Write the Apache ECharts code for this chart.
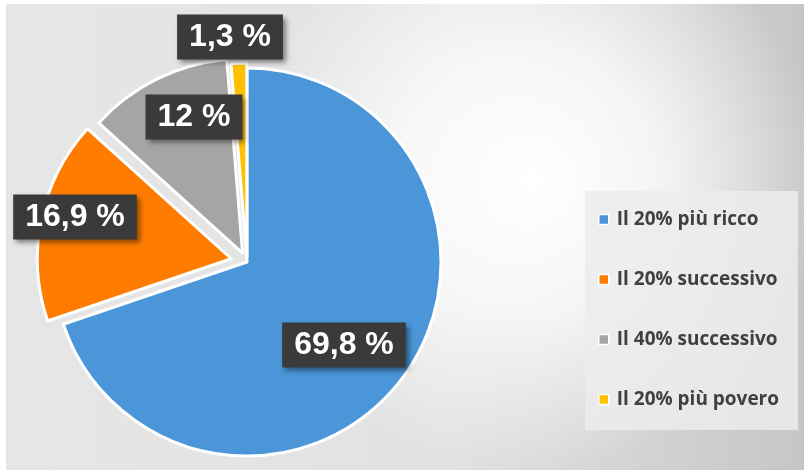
<!DOCTYPE html>
<html><head><meta charset="utf-8">
<script src="https://cdn.jsdelivr.net/npm/echarts@6/dist/echarts.min.js"></script>
<style>html,body{margin:0;padding:0;background:#fff}#c{width:812px;height:476px}</style>
</head><body><div id="c"></div>
<script>
// ---- data ----
const categories = ['Il 20% più ricco', 'Il 20% successivo', 'Il 40% successivo', 'Il 20% più povero'];
const values = [69.8, 16.9, 12, 1.3];
const valueLabels = ['69,8 %', '16,9 %', '12 %', '1,3 %'];

// ---- styles / layout ----
const colors = ['#4a96d9', '#ff7c00', '#a5a5a5', '#ffc000'];
const explode = [0, 16, 10, 5];
const labelCenters = [[344, 345], [75, 217], [194, 117], [230, 37]];
const center = [247, 262];
const radius = 194;

const total = values.reduce((a, b) => a + b, 0);

function sliceSeries(k) {
  let before = 0;
  for (let i = 0; i < k; i++) before += values[i];
  const mid = (before + values[k] / 2) / total * 2 * Math.PI;
  const cx = center[0] + explode[k] * Math.sin(mid);
  const cy = center[1] - explode[k] * Math.cos(mid);
  return {
    type: 'pie',
    center: [cx, cy],
    radius: [0, radius],
    startAngle: 90,
    clockwise: true,
    animation: false,
    silent: true,
    avoidLabelOverlap: false,
    labelLine: { show: false },
    emphasis: { disabled: true },
    data: categories.map((name, i) => ({
      name: name,
      value: values[i],
      itemStyle: i === k
        ? { color: colors[i], borderColor: '#ffffff', borderWidth: 3 }
        : { color: 'rgba(0,0,0,0)', borderWidth: 0 },
      label: i === k ? {
        show: true,
        position: 'inside',
        formatter: valueLabels[i],
        color: '#ffffff',
        fontFamily: 'Liberation Sans, Arial, sans-serif',
        fontWeight: 'bold',
        fontSize: 32,
        lineHeight: 34,
        backgroundColor: '#3a3a3a',
        padding: [6, 12, 5, 12],
        shadowColor: 'rgba(0,0,0,0.45)',
        shadowBlur: 5,
        shadowOffsetX: 3,
        shadowOffsetY: 3
      } : { show: false }
    })),
    labelLayout: function (p) {
      if (p.dataIndex !== k) return {};
      return { x: labelCenters[k][0], y: labelCenters[k][1], align: 'center', verticalAlign: 'middle' };
    }
  };
}

const chart = echarts.init(document.getElementById('c'), null, { renderer: 'canvas' });
chart.setOption({
  animation: false,
  backgroundColor: '#ffffff',
  graphic: [
    {
      type: 'rect', z: -10, silent: true,
      shape: { x: 6, y: 4, width: 798, height: 466 },
      style: {
        fill: {
          type: 'linear', x: 0, y: 0, x2: 1, y2: 0,
          colorStops: [
            { offset: 0, color: '#e6e6e6' },
            { offset: 0.55, color: '#e2e2e2' },
            { offset: 1, color: '#c6c6c6' }
          ]
        }
      }
    },
    {
      type: 'rect', z: -9, silent: true,
      shape: { x: 6, y: 4, width: 798, height: 466 },
      style: {
        fill: {
          type: 'radial', x: 0.66, y: 0.38, r: 0.62,
          colorStops: [
            { offset: 0, color: 'rgba(255,255,255,1)' },
            { offset: 0.45, color: 'rgba(255,255,255,0.75)' },
            { offset: 1, color: 'rgba(255,255,255,0)' }
          ]
        }
      }
    },
    {
      type: 'rect', z: -8, silent: true,
      shape: { x: 585, y: 191, width: 213, height: 239 },
      style: { fill: 'rgba(236,236,236,0.85)' }
    }
  ],
  legend: {
    orient: 'vertical',
    left: 598,
    top: 209,
    padding: 0,
    itemGap: 39,
    itemWidth: 10,
    itemHeight: 10,
    icon: 'rect',
    selectedMode: false,
    textStyle: {
      color: '#404040',
      fontFamily: 'Open Sans, sans-serif',
      fontWeight: 'bold',
      fontSize: 19,
      lineHeight: 21,
      padding: [0, 0, 0, 3]
    },
    data: categories.map((name, i) => ({
      name: name,
      itemStyle: { color: colors[i], borderColor: '#ffffff', borderWidth: 1.5 }
    }))
  },
  series: categories.map((_, k) => sliceSeries(k))
});
</script>
</body></html>
